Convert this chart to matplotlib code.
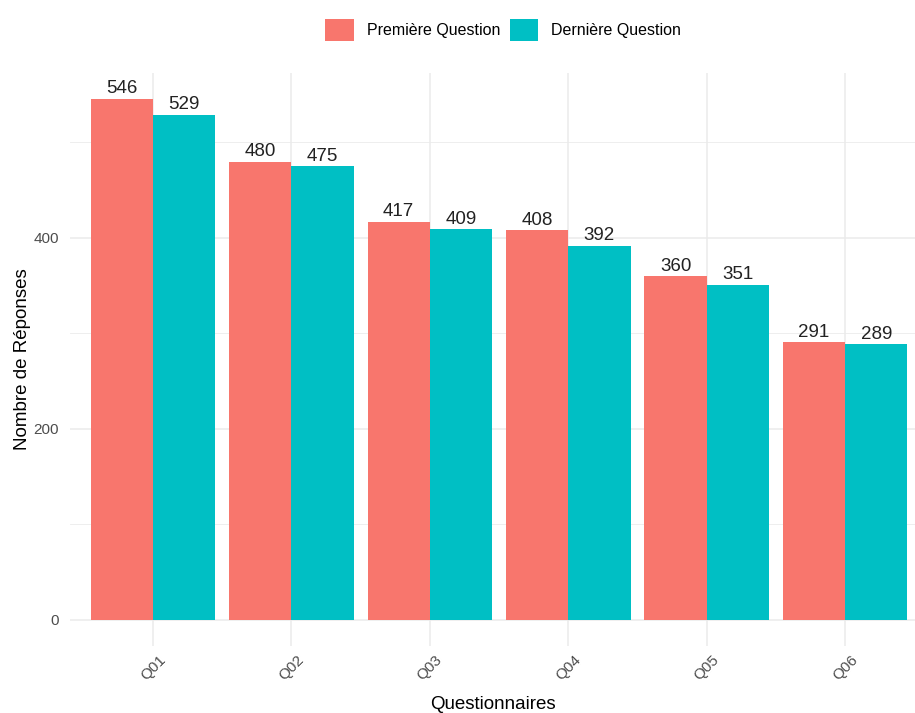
import numpy as np
import matplotlib.pyplot as plt

plt.rcParams['font.family'] = ['Liberation Sans', 'DejaVu Sans']

# data
questionnaires = ["Q01", "Q02", "Q03", "Q04", "Q05", "Q06"]
premiere = [546, 480, 417, 408, 360, 291]
derniere = [529, 475, 409, 392, 351, 289]
series_names = ["Première Question", "Dernière Question"]
colors = ["#F8766D", "#00BFC4"]

fig = plt.figure(figsize=(9.15, 7.13), dpi=100)
ax = fig.add_axes([70 / 915, 67 / 713, 845 / 915, 573.5 / 713])

x = np.arange(1, len(questionnaires) + 1)
w = 0.45
b1 = ax.bar(x - w / 2, premiere, width=w, color=colors[0], label=series_names[0], zorder=2)
b2 = ax.bar(x + w / 2, derniere, width=w, color=colors[1], label=series_names[1], zorder=2)
for bars in (b1, b2):
    ax.bar_label(bars, padding=1, fontsize=13.5, color="#222222")

ax.set_xlim(0.4, 6.505)
ax.set_ylim(-27.3, 573.3)
ax.set_xticks(x)
ax.set_xticklabels(questionnaires, rotation=45, ha="center", va="top")
ax.set_yticks([0, 200, 400])
ax.set_yticks([100, 300, 500], minor=True)

# theme_minimal look
for s in ax.spines.values():
    s.set_visible(False)
ax.grid(which="major", color="#EBEBEB", linewidth=1.1, zorder=0)
ax.grid(which="minor", axis="y", color="#EBEBEB", linewidth=0.6, zorder=0)
ax.tick_params(which="both", length=0)
ax.tick_params(axis="both", labelsize=11, labelcolor="#4D4D4D")
ax.tick_params(axis="x", pad=5)
ax.tick_params(axis="y", pad=8)

ax.set_xlabel("Questionnaires", fontsize=13.5, color="black", labelpad=9)
ax.set_ylabel("Nombre de Réponses", fontsize=13.5, color="black", labelpad=2)

fig.legend(loc="center", bbox_to_anchor=(503 / 915, 1 - 30 / 713), ncol=2,
           frameon=False, fontsize=11.5, handlelength=1.8, handleheight=1.8,
           handletextpad=0.8, columnspacing=0.6)

fig.savefig("out.png", dpi=100)
